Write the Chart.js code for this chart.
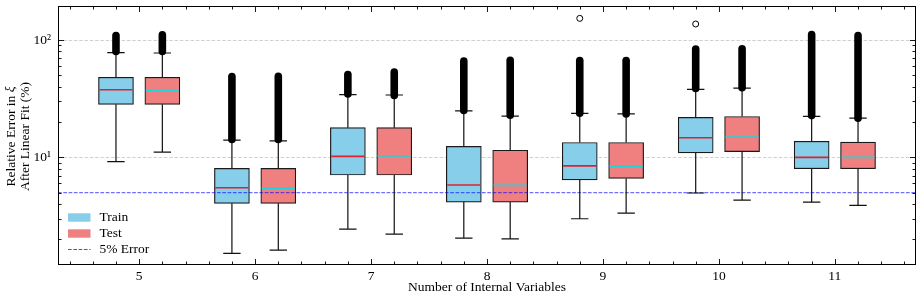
<!DOCTYPE html>
<html>
<head>
<meta charset="utf-8">
<script src="https://cdn.jsdelivr.net/npm/chart.js@4.4.1/dist/chart.umd.min.js"></script>
<style>
  html, body { margin: 0; padding: 0; background: #fff; }
  #wrap { width: 922px; height: 299px; }
</style>
</head>
<body>
<div id="wrap"><canvas id="c" width="922" height="299"></canvas></div>
<script>
// ---- data ----
const categories = [5, 6, 7, 8, 9, 10, 11];

const trainWhisLo = [9.2, 1.52, 2.45, 2.05, 3.0, 4.97, 4.16];
const trainQ1     = [28.3, 4.06, 7.07, 4.16, 6.44, 10.9, 8.0];
const trainMed    = [37.7, 5.51, 10.2, 5.81, 8.47, 14.7, 10.0];
const trainQ3     = [48.1, 8.06, 17.9, 12.4, 13.4, 21.9, 13.7];
const trainWhisHi = [78, 14.05, 34.2, 24.9, 23.7, 38, 22.4];
const trainOutLo  = [79.8, 14.2, 34.7, 25.1, 23.8, 38.6, 22.7];
const trainOutHi  = [109, 48.9, 50.8, 66.2, 67, 83.8, 111.4];
const trainExtraCat = [9, 10];
const trainExtraVal = [153, 137];

const testWhisLo = [11.1, 1.62, 2.22, 2.02, 3.35, 4.33, 3.9];
const testQ1     = [28.3, 4.06, 7.07, 4.16, 6.62, 11.2, 8.0];
const testMed    = [37.3, 5.47, 10.3, 5.77, 8.43, 14.9, 10.0];
const testQ3     = [48.1, 8.06, 17.9, 11.5, 13.4, 22.3, 13.5];
const testWhisHi = [77.5, 13.8, 34, 22.5, 23.5, 38.9, 21.6];
const testOutLo  = [80, 14.2, 33.7, 22.9, 23.4, 39.3, 21.6];
const testOutHi  = [111, 49, 53.3, 67.2, 67, 84, 109];

const errorThreshold = 5;
const yMajorTicks = [10, 100];
const yTickLabels = ['10\u00B9', '10\u00B2'];
const xTickLabels = ['5', '6', '7', '8', '9', '10', '11'];

// ---- styling / layout ----
const X_MIN = 4.3, X_MAX = 11.7, Y_MIN = 1.21, Y_MAX = 195;
const OFFSET = 0.2, CAP_HALF = 0.075;
const FONT = 'Liberation Serif';
const FS = 13.5;
const TRAIN_COLOR = '#87CEEB';
const TEST_COLOR = '#F08080';
const TRAIN_MED = '#e0202a';
const TEST_MED = '#22d3dc';

const series = [
  { off: -OFFSET, lo: trainWhisLo, q1: trainQ1, med: trainMed, q3: trainQ3, hi: trainWhisHi, oLo: trainOutLo, oHi: trainOutHi, medColor: TRAIN_MED },
  { off: OFFSET, lo: testWhisLo, q1: testQ1, med: testMed, q3: testQ3, hi: testWhisHi, oLo: testOutLo, oHi: testOutHi, medColor: TEST_MED }
];

const extrasPlugin = {
  id: 'extras',
  beforeDatasetsDraw(chart) {
    const { ctx, chartArea: a, scales: { y } } = chart;
    ctx.save();
    ctx.strokeStyle = '#c4c4c4';
    ctx.lineWidth = 0.8;
    ctx.setLineDash([3.5, 1.8]);
    yMajorTicks.forEach(v => {
      const py = Math.round(y.getPixelForValue(v)) + 0.5;
      ctx.beginPath(); ctx.moveTo(a.left, py); ctx.lineTo(a.right, py); ctx.stroke();
    });
    ctx.restore();
  },
  afterDatasetsDraw(chart) {
    const { ctx, scales: { x, y } } = chart;
    ctx.save();
    series.forEach(s => {
      categories.forEach((c, i) => {
        const cx = x.getPixelForValue(c + s.off);
        const capL = x.getPixelForValue(c + s.off - CAP_HALF);
        const capR = x.getPixelForValue(c + s.off + CAP_HALF);
        const pLo = y.getPixelForValue(s.lo[i]);
        const pQ1 = y.getPixelForValue(s.q1[i]);
        const pQ3 = y.getPixelForValue(s.q3[i]);
        const pHi = y.getPixelForValue(s.hi[i]);
        ctx.strokeStyle = '#111';
        ctx.lineWidth = 1.2;
        ctx.setLineDash([]);
        ctx.beginPath();
        ctx.moveTo(cx, pQ1); ctx.lineTo(cx, pLo);
        ctx.moveTo(cx, pQ3); ctx.lineTo(cx, pHi);
        ctx.moveTo(capL, pLo); ctx.lineTo(capR, pLo);
        ctx.moveTo(capL, pHi); ctx.lineTo(capR, pHi);
        ctx.stroke();
        const bl = x.getPixelForValue(c + s.off - 0.15) + 0.8;
        const br = x.getPixelForValue(c + s.off + 0.15) - 0.8;
        const pm = y.getPixelForValue(s.med[i]);
        ctx.strokeStyle = s.medColor;
        ctx.lineWidth = 1.6;
        ctx.beginPath(); ctx.moveTo(bl, pm); ctx.lineTo(br, pm); ctx.stroke();
        ctx.strokeStyle = '#000';
        ctx.lineWidth = 7.6;
        ctx.lineCap = 'round';
        ctx.beginPath();
        ctx.moveTo(cx, y.getPixelForValue(s.oLo[i]));
        ctx.lineTo(cx, y.getPixelForValue(s.oHi[i]));
        ctx.stroke();
        ctx.lineCap = 'butt';
      });
    });
    ctx.restore();
  },
  afterDraw(chart) {
    const { ctx, chartArea: a, scales: { x, y } } = chart;
    ctx.save();
    ctx.strokeStyle = '#000';
    ctx.lineWidth = 1;
    ctx.strokeRect(Math.round(a.left) + 0.5, Math.round(a.top) + 0.5,
                   Math.round(a.right - a.left) - 1, Math.round(a.bottom - a.top) - 1);
    ctx.lineWidth = 0.9;
    ctx.beginPath();
    const L = Math.round(a.left) + 0.5, R = Math.round(a.right) - 0.5;
    const T = Math.round(a.top) + 0.5, B = Math.round(a.bottom) - 0.5;
    for (let k = 22; k <= 58; k++) {
      const v = k / 5;
      const major = (k % 5 === 0);
      const len = major ? 5.5 : 3;
      const px = Math.round(x.getPixelForValue(v)) + 0.5;
      ctx.moveTo(px, B); ctx.lineTo(px, B - len);
      ctx.moveTo(px, T); ctx.lineTo(px, T + len);
    }
    for (let e = 0; e <= 2; e++) {
      for (let m = 1; m <= 9; m++) {
        const v = m * Math.pow(10, e);
        if (v < Y_MIN || v > Y_MAX) continue;
        const major = (m === 1);
        const len = major ? 5.5 : 3;
        const py = Math.round(y.getPixelForValue(v)) + 0.5;
        ctx.moveTo(L, py); ctx.lineTo(L + len, py);
        ctx.moveTo(R, py); ctx.lineTo(R - len, py);
      }
    }
    ctx.stroke();

    // legend
    const lx = 68, lw = 22.5;
    const rows = [217.5, 233.5, 249.5];
    ctx.fillStyle = TRAIN_COLOR; ctx.fillRect(lx, rows[0] - 4.2, lw, 8.4);
    ctx.fillStyle = TEST_COLOR; ctx.fillRect(lx, rows[1] - 4.2, lw, 8.4);
    ctx.strokeStyle = 'rgba(0,0,255,0.7)';
    ctx.lineWidth = 1;
    ctx.setLineDash([3.7, 1.6]);
    ctx.beginPath(); ctx.moveTo(lx, rows[2]); ctx.lineTo(lx + lw, rows[2]); ctx.stroke();
    ctx.setLineDash([]);
    ctx.fillStyle = '#000';
    ctx.font = FS + 'px "' + FONT + '"';
    ctx.textBaseline = 'middle';
    ctx.textAlign = 'left';
    ctx.fillText('Train', 99.5, rows[0]);
    ctx.fillText('Test', 99.5, rows[1]);
    ctx.fillText('5% Error', 99.5, rows[2]);

    // y title
    const cy = 136.5;
    const line1a = 'Relative Error in ';
    const line1b = '\u03BE';
    ctx.save();
    ctx.translate(11.5, cy);
    ctx.rotate(-Math.PI / 2);
    ctx.font = FS + 'px "' + FONT + '"';
    const w1a = ctx.measureText(line1a).width;
    ctx.font = 'italic ' + FS + 'px "' + FONT + '"';
    const w1b = ctx.measureText(line1b).width;
    const start = -(w1a + w1b) / 2;
    ctx.textAlign = 'left';
    ctx.font = FS + 'px "' + FONT + '"';
    ctx.fillText(line1a, start, 0);
    ctx.font = 'italic ' + FS + 'px "' + FONT + '"';
    ctx.fillText(line1b, start + w1a, -1);
    ctx.restore();
    ctx.save();
    ctx.translate(25.5, cy);
    ctx.rotate(-Math.PI / 2);
    ctx.font = FS + 'px "' + FONT + '"';
    ctx.textAlign = 'center';
    ctx.fillText('After Linear Fit (%)', 0, 0);
    ctx.restore();
    ctx.restore();
  }
};

const datasets = [
  {
    type: 'line', label: '5% Error',
    data: [{ x: X_MIN, y: errorThreshold }, { x: X_MAX, y: errorThreshold }],
    borderColor: 'rgba(0,0,255,0.7)', borderWidth: 1, borderDash: [3.7, 1.6],
    pointRadius: 0, fill: false, order: 0
  },
  {
    type: 'line', label: 'Train outliers',
    data: trainExtraCat.map((c, i) => ({ x: c - OFFSET, y: trainExtraVal[i] })),
    showLine: false, pointRadius: 3, pointBorderWidth: 1,
    pointBorderColor: '#000', pointBackgroundColor: 'rgba(0,0,0,0)', order: 0
  },
  {
    type: 'bar', label: 'Train',
    data: categories.map((c, i) => ({ x: c - OFFSET, y: [trainQ1[i], trainQ3[i]] })),
    backgroundColor: TRAIN_COLOR, borderColor: '#1a1a1a', borderWidth: 1.2,
    borderSkipped: false, barThickness: 35, grouped: false, order: 2
  },
  {
    type: 'bar', label: 'Test',
    data: categories.map((c, i) => ({ x: c + OFFSET, y: [testQ1[i], testQ3[i]] })),
    backgroundColor: TEST_COLOR, borderColor: '#1a1a1a', borderWidth: 1.2,
    borderSkipped: false, barThickness: 35, grouped: false, order: 2
  }
];

new Chart(document.getElementById('c'), {
  type: 'bar',
  data: { datasets },
  plugins: [extrasPlugin],
  options: {
    responsive: false,
    animation: false,
    devicePixelRatio: 1,
    layout: { padding: { top: 6, right: 6, left: 0, bottom: 0 } },
    plugins: { legend: { display: false }, tooltip: { enabled: false } },
    scales: {
      x: {
        type: 'linear', min: X_MIN, max: X_MAX, offset: false,
        afterBuildTicks: s => { s.ticks = categories.map(v => ({ value: v })); },
        afterFit: s => { s.height = 34; s.paddingLeft = 0; s.paddingRight = 0; },
        grid: { display: false, drawTicks: false },
        border: { display: false },
        ticks: {
          autoSkip: false, maxRotation: 0, padding: 3, color: '#000',
          font: { family: FONT, size: FS },
          callback: v => xTickLabels[categories.indexOf(v)] ?? ''
        },
        title: {
          display: true, text: 'Number of Internal Variables', color: '#000',
          font: { family: FONT, size: FS }, padding: { top: 0, bottom: 3 }
        }
      },
      y: {
        type: 'logarithmic', min: Y_MIN, max: Y_MAX,
        afterBuildTicks: s => { s.ticks = yMajorTicks.map(v => ({ value: v })); },
        afterFit: s => { s.width = 58; s.paddingTop = 0; s.paddingBottom = 0; },
        grid: { display: false, drawTicks: false },
        border: { display: false },
        ticks: {
          autoSkip: false, padding: 7, color: '#000',
          font: { family: FONT, size: FS },
          callback: v => yTickLabels[yMajorTicks.indexOf(v)] ?? ''
        }
      }
    }
  }
});
</script>
</body>
</html>
